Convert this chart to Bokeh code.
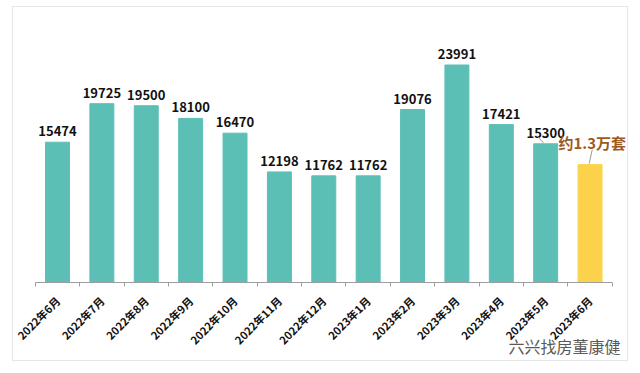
import math
from bokeh.plotting import figure
from bokeh.models import ColumnDataSource, FixedTicker, Range1d, Label, LinearAxis
from bokeh.core.properties import value
from bokeh.embed import file_html
from bokeh.resources import INLINE

months = ["2022年6月", "2022年7月", "2022年8月", "2022年9月", "2022年10月", "2022年11月",
          "2022年12月", "2023年1月", "2023年2月", "2023年3月", "2023年4月", "2023年5月", "2023年6月"]
sales = [15474, 19725, 19500, 18100, 16470, 12198, 11762, 11762, 19076, 23991, 17421, 15300, 13000]
value_labels = ["15474", "19725", "19500", "18100", "16470", "12198", "11762", "11762",
                "19076", "23991", "17421", "15300", ""]
estimate_label = "约1.3万套"
watermark = "六兴找房董康健"

TEAL = "#5cbfb6"
YELLOW = "#fbd24a"
FONT = "Noto Sans CJK SC"

n = len(months)
xs = list(range(n))
colors = [TEAL] * (n - 1) + [YELLOW]

# layout (pixels)
W, H = 616, 355
CAT_PX = 44.38          # width of one category
FIRST_CENTER_PX = 44.0  # x of first bar centre inside figure
BASE_PX = 275.0         # y of the baseline from the top
UNITS_PER_PX = 110.3

x0 = -(FIRST_CENTER_PX / CAT_PX)
x1 = x0 + W / CAT_PX
y0 = -(H - BASE_PX) * UNITS_PER_PX
y1 = BASE_PX * UNITS_PER_PX

src = ColumnDataSource(dict(x=xs, top=sales, color=colors, lab=value_labels))

p = figure(width=W, height=H, output_backend="svg", toolbar_location=None,
           x_range=Range1d(x0, x1), y_range=Range1d(y0, y1),
           x_axis_location=None, y_axis_location=None,
           min_border_left=0, min_border_right=0, min_border_top=0, min_border_bottom=0)
p.outline_line_color = None
p.background_fill_color = "white"
p.border_fill_color = "white"
p.grid.visible = False
p.styles = {"margin": "6px 0 0 12px", "border": "1px solid #e4e6e8"}

p.vbar(x="x", top="top", width=0.54, bottom=0, color="color", source=src)

p.text(x="x", y="top", text="lab", source=src, text_align="center", text_baseline="alphabetic",
       y_offset=-11, text_font=value(FONT), text_font_style="bold", text_font_size="13px",
       text_color="#111111")

# estimate annotation for last month
last = n - 1
p.text(x=[last + 0.05], y=[sales[last]], text=[estimate_label], text_align="center",
       text_baseline="alphabetic", y_offset=-22, text_font=value(FONT), text_font_size="15px",
       text_font_style="bold", text_color="#9e5a1e")
p.segment(x0=[last - 0.02], y0=[sales[last] + 120], x1=[last + 0.05], y1=[sales[last] + 1650],
          line_color="#9a9a9a", line_width=1)
p.segment(x0=[last - 1 - 0.2], y0=[sales[last - 1] + 900], x1=[last - 1 - 0.05], y1=[sales[last - 1] + 100],
          line_color="#9a9a9a", line_width=1)

ax = LinearAxis(fixed_location=0)
ax.ticker = FixedTicker(ticks=xs, minor_ticks=[i - 0.5 for i in range(n + 1)])
ax.major_label_overrides = {i: m for i, m in enumerate(months)}
ax.major_label_orientation = math.pi / 4
ax.major_label_text_font = FONT
ax.major_label_text_font_style = "bold"
ax.major_label_text_font_size = "11px"
ax.major_label_text_color = "#111111"
ax.major_label_standoff = 12
ax.major_tick_out = 0
ax.major_tick_in = 0
ax.minor_tick_out = 4
ax.minor_tick_in = 0
ax.minor_tick_line_color = "#9e9e9e"
ax.axis_line_color = None
p.add_layout(ax, "below")
p.segment(x0=[-0.5], y0=[0], x1=[n - 0.5], y1=[0], line_color="#9e9e9e", line_width=1)

p.add_layout(Label(x=495, y=17, x_units="screen", y_units="screen", text=watermark,
                   text_baseline="middle", text_font=FONT, text_font_size="16px",
                   text_color="#5a5a5a"))

open("out.html", "w").write(file_html(p, INLINE))
